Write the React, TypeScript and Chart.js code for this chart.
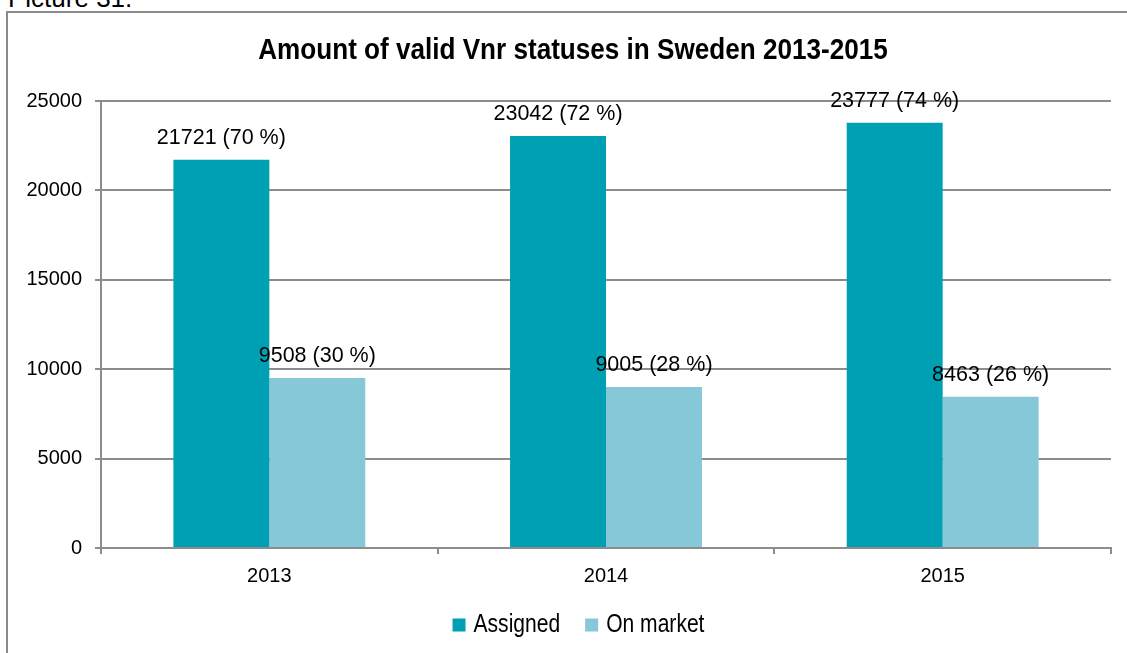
import React, { useEffect, useRef } from "react";
import { Chart, registerables } from "chart.js";

Chart.register(...registerables);

const categories = ["2013", "2014", "2015"];
const assignedValues = [21721, 23042, 23777];
const assignedPercents = [70, 72, 74];
const onMarketValues = [9508, 9005, 8463];
const onMarketPercents = [30, 28, 26];
const seriesNames = ["Assigned", "On market"];
const seriesColors = ["#00a0b4", "#86c8d8"];
const yTicks = [0, 5000, 10000, 15000, 20000, 25000];
const titleText = "Amount of valid Vnr statuses in Sweden 2013-2015";

const SANS = '"Liberation Sans", Arial, sans-serif';
const GRID = "#8c8c8c";

const labelPlugin = {
  id: "barLabels",
  afterDatasetsDraw(chart: any) {
    const ctx = chart.ctx;
    ctx.save();
    ctx.font = `21.5px ${SANS}`;
    ctx.fillStyle = "#000";
    ctx.textAlign = "center";
    ctx.textBaseline = "middle";
    const pct = [assignedPercents, onMarketPercents];
    chart.data.datasets.forEach((ds: any, di: number) => {
      const meta = chart.getDatasetMeta(di);
      meta.data.forEach((el: any, i: number) => {
        const text = `${ds.data[i]} (${pct[di][i]} %)`;
        ctx.fillText(text, el.x, el.y - 22);
      });
    });
    ctx.restore();
  },
};

// Narrow (condensed) title and legend, drawn with horizontal scaling
const narrowTextPlugin = {
  id: "narrowText",
  afterDraw(chart: any) {
    const ctx = chart.ctx;
    // title
    ctx.save();
    ctx.font = `bold 29px ${SANS}`;
    ctx.fillStyle = "#000";
    ctx.textAlign = "center";
    ctx.textBaseline = "middle";
    const tx = 573;
    const sx = 0.9;
    ctx.translate(tx, 51);
    ctx.scale(sx, 1);
    ctx.fillText(titleText, 0, 0);
    ctx.restore();

    // legend
    ctx.save();
    const lsx = 0.81;
    ctx.font = `26px ${SANS}`;
    ctx.textBaseline = "middle";
    ctx.textAlign = "left";
    const box = 13;
    const gap = 8;
    const itemGap = 25;
    const widths = chart.data.datasets.map((ds: any) => ctx.measureText(ds.label).width * lsx);
    let total = 0;
    widths.forEach((w: number, i: number) => {
      total += box + gap + w + (i < widths.length - 1 ? itemGap : 0);
    });
    let x = 578.5 - total / 2;
    const cy = 625;
    chart.data.datasets.forEach((ds: any, i: number) => {
      ctx.fillStyle = ds.backgroundColor;
      ctx.fillRect(x, cy - box / 2, box, box);
      x += box + gap;
      ctx.save();
      ctx.translate(x, cy);
      ctx.scale(lsx, 1);
      ctx.fillStyle = "#000";
      ctx.fillText(ds.label, 0, 0);
      ctx.restore();
      x += widths[i] + itemGap;
    });
    ctx.restore();
  },
};

export default function App() {
  const ref = useRef<HTMLCanvasElement | null>(null);
  useEffect(() => {
    if (!ref.current) return;
    const chart = new Chart(ref.current, {
      type: "bar",
      data: {
        labels: categories,
        datasets: [
          {
            label: seriesNames[0],
            data: assignedValues,
            backgroundColor: seriesColors[0],
            categoryPercentage: 0.57,
            barPercentage: 1,
          },
          {
            label: seriesNames[1],
            data: onMarketValues,
            backgroundColor: seriesColors[1],
            categoryPercentage: 0.57,
            barPercentage: 1,
          },
        ],
      },
      options: {
        responsive: false,
        animation: false,
        layout: { padding: { left: 0, right: 16, top: 101, bottom: 51 } },
        plugins: {
          title: { display: false },
          legend: { display: false },
          tooltip: { enabled: false },
        },
        scales: {
          x: {
            afterFit(scale: any) {
              scale.height = 54;
            },
            grid: {
              drawOnChartArea: false,
              drawTicks: true,
              tickLength: 6,
              offset: true,
              color: GRID,
              lineWidth: 2,
            },
            border: { display: true, color: GRID, width: 2 },
            ticks: { color: "#000", font: { family: SANS, size: 20 }, padding: 10 },
          },
          y: {
            min: 0,
            max: 25000,
            afterFit(scale: any) {
              scale.width = 101;
            },
            afterBuildTicks(scale: any) {
              scale.ticks = yTicks.map((v) => ({ value: v }));
            },
            grid: { color: GRID, lineWidth: 2, tickLength: 6 },
            border: { display: true, color: GRID, width: 2 },
            ticks: {
              color: "#000",
              font: { family: SANS, size: 20 },
              padding: 13,
              callback: (v: any) => String(v),
            },
          },
        },
      },
      plugins: [labelPlugin, narrowTextPlugin],
    });
    return () => chart.destroy();
  }, []);

  return (
    <div style={{ position: "fixed", left: 0, top: 0, width: 1127, height: 653, overflow: "hidden", background: "#fff" }}>
      <div
        style={{
          position: "absolute",
          left: 8,
          top: -15,
          fontFamily: SANS,
          fontSize: 26,
          lineHeight: 1,
          color: "#000",
          whiteSpace: "nowrap",
        }}
      >
        Picture 31.
      </div>
      <div
        style={{
          position: "absolute",
          left: 6,
          top: 11,
          width: 1300,
          height: 800,
          border: `2px solid #8a8a8a`,
        }}
      />
      <canvas ref={ref} width={1127} height={653} style={{ position: "absolute", left: 0, top: 0 }} />
    </div>
  );
}
